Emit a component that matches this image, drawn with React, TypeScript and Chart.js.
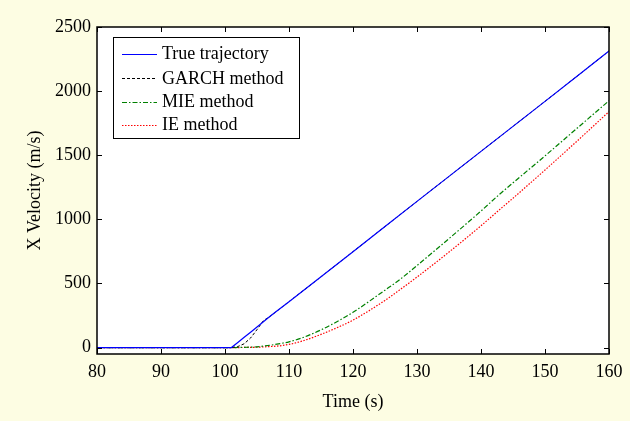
import React, { useEffect, useRef } from "react";
import { Chart, registerables } from "chart.js";

Chart.register(...registerables);

const timeTrue = [80, 90, 100, 101, 102, 103, 104, 105, 106, 107, 108, 110, 115, 120, 125, 130, 135, 140, 145, 150, 155, 160];
const trueTrajectory = [0, 0, 0, 0, 40, 80, 120, 161, 202, 242, 281, 358, 552, 748, 944, 1140, 1335, 1530, 1725, 1920, 2116, 2313];

const timeGarch = [80, 90, 100, 101, 102, 103, 104, 105, 106, 107, 108, 110, 115, 120, 125, 130, 135, 140, 145, 150, 155, 160];
const garchMethod = [0, 0, 0, 0, 8, 30, 75, 140, 210, 242, 281, 358, 552, 748, 944, 1140, 1335, 1530, 1725, 1920, 2116, 2313];

const timeMie = [80, 90, 100, 101, 103, 105, 107, 108.6, 110, 112, 115, 118, 120, 125, 127.3, 130, 135, 140, 143, 145, 150, 155, 160];
const mieMethod = [0, 0, 0, 0, 2, 6, 18, 31, 45, 75, 138, 216, 275, 448, 530, 640, 850, 1065, 1200, 1285, 1495, 1710, 1925];

const timeIe = [80, 90, 100, 101, 103, 105, 107, 108.6, 110, 112, 115, 118, 120, 125, 127.3, 130, 135, 140, 143, 145, 150, 155, 160];
const ieMethod = [0, 0, 0, 0, 1, 3, 8, 14, 25, 50, 103, 166, 214, 368, 450, 550, 745, 950, 1080, 1165, 1385, 1610, 1840];

const xTicks = [80, 90, 100, 110, 120, 130, 140, 150, 160];
const yTicks = [0, 500, 1000, 1500, 2000, 2500];

const seriesNames = ["True trajectory", "GARCH method", "MIE method", "IE method"];

const FONT = "'Liberation Serif', 'Times New Roman', serif";

const toPoints = (xs: number[], ys: number[]) => xs.map((x, i) => ({ x, y: ys[i] }));

const framePlugin = {
  id: "frame",
  beforeDatasetsDraw(chart: any) {
    const { ctx, chartArea: a } = chart;
    ctx.save();
    ctx.fillStyle = "#ffffff";
    ctx.fillRect(a.left, a.top, a.right - a.left, a.bottom - a.top);
    ctx.restore();
  },
  afterDraw(chart: any) {
    const { ctx, chartArea: a, scales } = chart;
    const xs = scales.x;
    const ys = scales.y;
    ctx.save();
    ctx.strokeStyle = "#000";
    ctx.lineWidth = 1;
    const tl = 5;
    ctx.beginPath();
    for (const t of xs.ticks) {
      const px = Math.round(xs.getPixelForValue(t.value)) + 0.5;
      ctx.moveTo(px, a.bottom);
      ctx.lineTo(px, a.bottom - tl);
      ctx.moveTo(px, a.top);
      ctx.lineTo(px, a.top + tl);
    }
    for (const t of ys.ticks) {
      const py = Math.round(ys.getPixelForValue(t.value)) + 0.5;
      ctx.moveTo(a.left, py);
      ctx.lineTo(a.left + tl, py);
      ctx.moveTo(a.right, py);
      ctx.lineTo(a.right - tl, py);
    }
    ctx.stroke();
    ctx.lineWidth = 1.5;
    ctx.strokeRect(a.left, a.top, a.right - a.left, a.bottom - a.top);

    // legend
    const lx = 113, ly = 37, lw = 186, lh = 101;
    ctx.fillStyle = "#fff";
    ctx.fillRect(lx, ly, lw, lh);
    ctx.lineWidth = 1;
    ctx.strokeStyle = "#000";
    ctx.strokeRect(lx + 0.5, ly + 0.5, lw, lh);
    const rows = [53.5, 78, 101.5, 124.5];
    chart.data.datasets.forEach((ds: any, i: number) => {
      const y = Math.round(rows[i]) + 0.5;
      ctx.strokeStyle = ds.borderColor;
      ctx.lineWidth = 1;
      ctx.setLineDash(ds.borderDash || []);
      ctx.beginPath();
      ctx.moveTo(122, y);
      ctx.lineTo(157, y);
      ctx.stroke();
      ctx.setLineDash([]);
      ctx.fillStyle = "#000";
      ctx.font = `18px ${FONT}`;
      ctx.textBaseline = "middle";
      ctx.textAlign = "left";
      ctx.fillText(ds.label, 162, rows[i] + 1);
    });
    ctx.restore();
  },
};

export default function App() {
  const ref = useRef<HTMLCanvasElement | null>(null);
  useEffect(() => {
    if (!ref.current) return;
    const chart = new Chart(ref.current, {
      type: "line",
      data: {
        datasets: [
          { label: seriesNames[0], data: toPoints(timeTrue, trueTrajectory), borderColor: "#0000ff", borderWidth: 1.2, pointRadius: 0, fill: false },
          { label: seriesNames[1], data: toPoints(timeGarch, garchMethod), borderColor: "#000000", borderWidth: 1, borderDash: [3, 2], pointRadius: 0, fill: false },
          { label: seriesNames[2], data: toPoints(timeMie, mieMethod), borderColor: "#008000", borderWidth: 1.2, borderDash: [5, 2, 1.5, 2], pointRadius: 0, fill: false, cubicInterpolationMode: "monotone" },
          { label: seriesNames[3], data: toPoints(timeIe, ieMethod), borderColor: "#ff0000", borderWidth: 1.2, borderDash: [1.5, 1.5], pointRadius: 0, fill: false, cubicInterpolationMode: "monotone" },
        ],
      },
      options: {
        responsive: false,
        animation: false,
        layout: { padding: { top: 27, right: 21, left: 0, bottom: 0 } },
        plugins: { legend: { display: false }, tooltip: { enabled: false } },
        scales: {
          x: {
            type: "linear",
            min: 80,
            max: 160,
            grid: { display: false, drawTicks: false },
            border: { display: false },
            ticks: { color: "#000", font: { family: FONT, size: 18 }, padding: 7, maxRotation: 0, callback: (v: any) => String(v) },
            title: { display: true, text: "Time (s)", color: "#000", font: { family: FONT, size: 18 }, padding: { top: 0, bottom: 8 } },
            afterBuildTicks: (s: any) => { s.ticks = xTicks.map((v) => ({ value: v })); },
            afterFit: (s: any) => { s.height = 67; },
          },
          y: {
            type: "linear",
            min: -50,
            max: 2500,
            grid: { display: false, drawTicks: false },
            border: { display: false },
            ticks: { color: "#000", font: { family: FONT, size: 18 }, padding: 6, callback: (v: any) => String(v) },
            title: { display: true, text: "X Velocity (m/s)", color: "#000", font: { family: FONT, size: 18 }, padding: { top: 24, bottom: 0 } },
            afterBuildTicks: (s: any) => { s.ticks = yTicks.map((v) => ({ value: v })); },
            afterFit: (s: any) => { s.width = 97; },
          },
        },
      },
      plugins: [framePlugin],
    });
    return () => chart.destroy();
  }, []);
  return (
    <div style={{ position: "fixed", left: 0, top: 0, width: 630, height: 421, background: "#fdfde3" }}>
      <canvas ref={ref} width={630} height={421} style={{ display: "block" }} />
    </div>
  );
}
